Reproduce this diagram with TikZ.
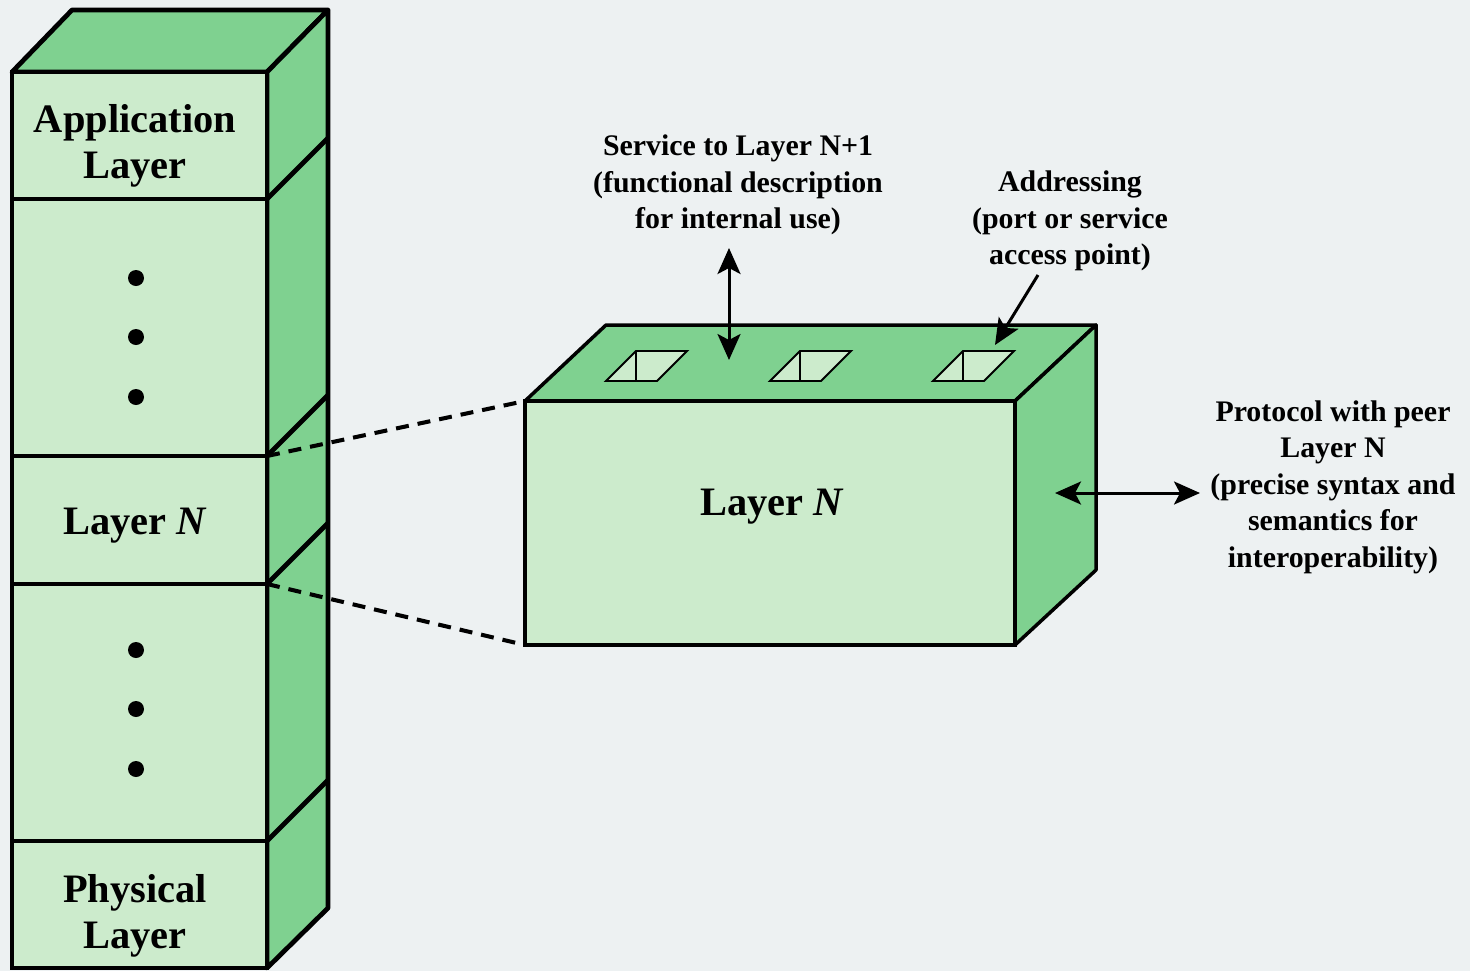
\documentclass[tikz,border=0pt]{standalone}
\usepackage{fontspec}
\setmainfont{Liberation Serif}
\usepackage{xcolor}
\definecolor{bgGray}{HTML}{EDF1F2}
\definecolor{faceLight}{HTML}{CCEBCC}
\definecolor{faceDark}{HTML}{7FD190}
\usetikzlibrary{arrows.meta, positioning, calc}

\begin{document}
\begin{tikzpicture}[
    x=0.02cm, y=-0.02cm,
    >={Stealth[length=0.52cm, width=0.46cm, inset=0.12cm]},
    stackFront/.style={draw=black, fill=faceLight, line width=2.7pt},
    stackSide/.style={draw=black, fill=faceDark, line width=2.7pt, line join=round},
    boxFront/.style={draw=black, fill=faceLight, line width=2pt},
    boxSide/.style={draw=black, fill=faceDark, line width=2pt, line join=round},
    holeFace/.style={draw=black, fill=faceLight, line width=1.1pt},
    bigLabel/.style={font=\fontsize{23}{26.5}\selectfont\bfseries, align=center},
    noteLabel/.style={font=\fontsize{17}{20.8}\selectfont\bfseries, align=center},
    dotMark/.style={circle, fill=black, inner sep=0pt, minimum size=0.32cm},
    arrowLine/.style={line width=1.7pt, ->},
    dblArrow/.style={line width=1.7pt, <->},
    dashLink/.style={line width=2.3pt, dash pattern=on 0.26cm off 0.18cm}
]

\useasboundingbox (0,0) rectangle (1470,971);
\fill[bgGray] (0,0) rectangle (1470,971);

% Left stack: top and side faces
\draw[stackSide] (12,72) -- (72,10) -- (328,10) -- (267,72) -- cycle;
\draw[stackSide] (267,72) -- (328,10) -- (328,908) -- (267,968) -- cycle;
\foreach \yy in {199,456,584,841}
    \draw[stackSide] (267,\yy) -- (328,\yy-61);

% Left stack: front faces
\draw[stackFront] (12,72) rectangle (267,199);
\draw[stackFront] (12,199) rectangle (267,456);
\draw[stackFront] (12,456) rectangle (267,584);
\draw[stackFront] (12,584) rectangle (267,841);
\draw[stackFront] (12,841) rectangle (267,968);

\coordinate (stackNTop) at (267,456);
\coordinate (stackNBot) at (267,584);

% Layer labels in the stack
\node[bigLabel] (appLayer) at (135,146) {Application\\Layer};
\node[bigLabel] (stackN) at (135,526) {Layer \textit{N}};
\node[bigLabel] (physLayer) at (135,916) {Physical\\Layer};
\foreach \yy in {278,337,397,650,709,769}
    \node[dotMark] (dot\yy) at (136,\yy) {};

% Layer N box
\draw[boxSide] (525,401) -- (606,325) -- (1096,325) -- (1015,401) -- cycle;
\draw[boxSide] (1015,401) -- (1096,325) -- (1096,570) -- (1015,645) -- cycle;
\draw[boxFront] (525,401) rectangle (1015,645);
\coordinate (boxTopLeft) at (525,401);
\coordinate (boxBotLeft) at (525,645);
\node[bigLabel] (boxLabel) at (772,507) {Layer \textit{N}};

% Access points on top of the box
\foreach \hx [count=\i] in {606,770,933} {
    \draw[holeFace] (\hx,381) -- (\hx+30,351) -- (\hx+81,351) -- (\hx+51,381) -- cycle;
    \draw[holeFace] (\hx+30,351) -- (\hx+30,381);
}

% Dashed zoom lines
\draw[dashLink] (stackNTop) -- (boxTopLeft);
\draw[dashLink] (stackNBot) -- (boxBotLeft);

% Notes
\node[noteLabel] (serviceNote) at (738,185) {Service to Layer N+1\\(functional description\\for internal use)};
\node[noteLabel] (addrNote) at (1070,221) {Addressing\\(port or service\\access point)};
\node[noteLabel] (protoNote) at (1333,487) {Protocol with peer\\Layer N\\(precise syntax and\\semantics for\\interoperability)};

% Arrows
\coordinate (serviceTop) at (729,248);
\coordinate (serviceBot) at (729,360);
\draw[dblArrow] (serviceTop) -- (serviceBot);

\coordinate (addrTail) at (1038,275);
\coordinate (addrTip) at (995,345);
\draw[arrowLine] (addrTail) -- (addrTip);

\coordinate (protoLeft) at (1055,493);
\coordinate (protoRight) at (1200,493);
\draw[dblArrow] (protoLeft) -- (protoRight);

\end{tikzpicture}
\end{document}
